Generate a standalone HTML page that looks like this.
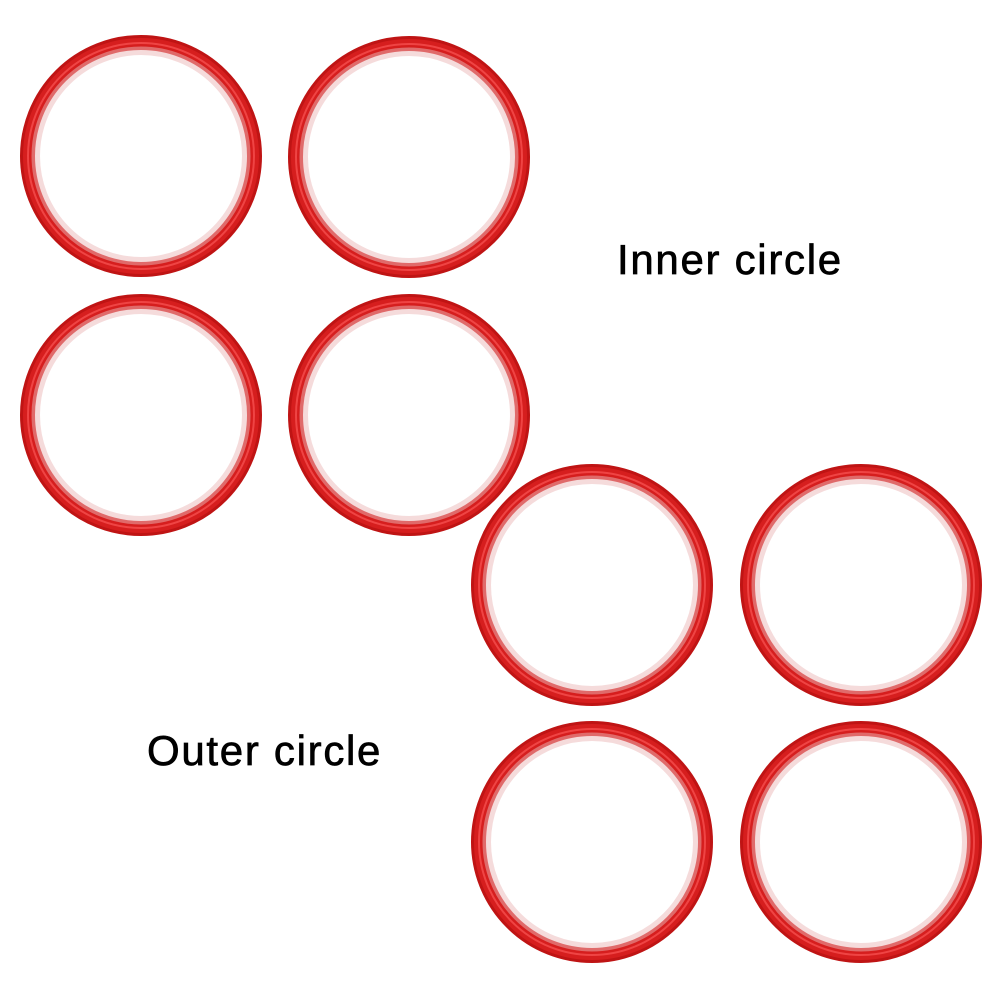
<!DOCTYPE html>
<html><head><style>
html,body{margin:0;padding:0;background:#fff;}
body{width:1001px;height:1001px;position:relative;overflow:hidden;}
svg{position:absolute;left:0;top:0;}
.t{position:absolute;font-family:"Liberation Sans",Arial,sans-serif;font-size:42px;color:#000;white-space:nowrap;letter-spacing:1.7px;-webkit-text-stroke:0.7px #000;}
</style></head><body>
<svg width="1001" height="1001" viewBox="0 0 1001 1001">
<defs>
<g id="r">
<circle r="104" fill="none" stroke="#f2d2d2" stroke-width="6" opacity="0.8"/>
<circle r="108" fill="none" stroke="#e06a6a" stroke-width="4"/>
<circle r="115" fill="none" stroke="#d61e1e" stroke-width="11"/>
<circle r="113" fill="none" stroke="#ef4444" stroke-width="2"/>
<circle r="119.5" fill="none" stroke="#bf1414" stroke-width="3"/>
</g>
</defs>
<use href="#r" x="141" y="156"/>
<use href="#r" x="409" y="157"/>
<use href="#r" x="141" y="415"/>
<use href="#r" x="409" y="415"/>
<use href="#r" x="592" y="585"/>
<use href="#r" x="861" y="585"/>
<use href="#r" x="592" y="842"/>
<use href="#r" x="861" y="842"/>
</svg>
<div class="t" style="left:617px;top:236px;">Inner circle</div>
<div class="t" style="left:147px;top:727px;">Outer circle</div>
</body></html>
